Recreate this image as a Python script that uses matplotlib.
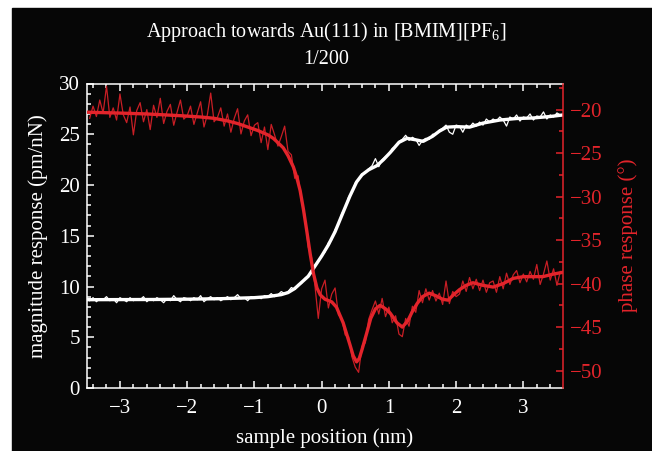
import numpy as np
import matplotlib
matplotlib.use("Agg")
import matplotlib.pyplot as plt
from matplotlib.patches import Rectangle
from matplotlib.ticker import MultipleLocator

plt.rcParams['font.family'] = ['Liberation Serif', 'DejaVu Serif']
plt.rcParams['mathtext.fontset'] = 'custom'
plt.rcParams['mathtext.rm'] = 'Liberation Serif'
plt.rcParams['mathtext.it'] = 'Liberation Serif:italic'

# ---------------- data ----------------
# raw samples, evenly spaced from -3.45 nm to 3.55 nm (step 0.05 nm)
pos_raw = np.linspace(-3.45, 3.55, 141)

mag_raw = [
    8.6, 8.9, 8.5, 8.8, 8.7, 9.0, 8.6, 8.8, 8.4, 8.9,
    8.7, 8.5, 8.9, 8.6, 8.8, 8.7, 9.0, 8.5, 8.8, 8.6,
    8.9, 8.7, 8.4, 8.8, 8.6, 9.1, 8.7, 8.5, 8.9, 8.8,
    8.6, 8.9, 8.7, 9.1, 8.5, 8.8, 9.0, 8.7, 8.9, 8.6,
    8.8, 9.0, 8.7, 8.9, 9.2, 8.8, 8.9, 8.6, 9.0, 8.9,
    9.0, 8.8, 9.1, 9.0, 9.3, 9.0, 9.2, 9.5, 9.3, 9.5,
    9.9, 9.7, 10.2, 10.3, 10.8, 11.1, 11.4, 12.1, 12.4, 13.1,
    13.4, 14.3, 14.6, 15.6, 16.1, 17.2, 17.7, 18.8, 19.3, 20.2,
    20.5, 21.1, 21.2, 21.6, 21.9, 22.6, 21.8, 22.5, 22.8, 23.0,
    23.6, 23.8, 24.3, 24.5, 24.9, 24.4, 24.7, 24.5, 23.9, 24.4,
    24.6, 24.5, 25.0, 25.0, 25.4, 25.6, 25.9, 25.2, 25.0, 25.9,
    25.8, 25.2, 25.9, 25.7, 26.1, 25.8, 26.2, 25.9, 26.5, 26.2,
    26.5, 26.3, 26.7, 26.4, 25.8, 26.7, 26.5, 26.9, 26.3, 26.7,
    26.6, 27.0, 26.4, 26.8, 26.7, 27.2, 26.5, 26.9, 26.7, 27.1, 26.9,
]

phase_raw = [
    -21.0, -19.6, -20.8, -18.9, -20.4, -17.3, -20.9, -19.8, -21.2, -18.2,
    -20.6, -21.5, -19.7, -22.9, -20.1, -19.2, -21.4, -20.0, -22.3, -19.5,
    -20.9, -18.7, -21.6, -20.2, -19.4, -21.8, -20.3, -18.9, -21.1, -20.7,
    -19.6, -21.7, -20.4, -19.1, -22.0, -20.6, -18.1, -21.4, -20.9, -19.8,
    -21.9, -20.5, -22.6, -21.0, -19.9, -22.8, -21.3, -20.6, -23.0, -21.8,
    -21.5, -23.8, -22.0, -24.6, -21.7, -22.9, -24.2, -23.1, -21.9, -24.8,
    -25.2, -27.9, -27.6, -30.6, -32.1, -35.8, -37.0, -40.2, -44.0, -40.6,
    -39.6, -42.8, -41.2, -40.5, -43.6, -44.0, -45.9, -46.1, -48.4, -49.6,
    -50.2, -47.2, -46.8, -44.1, -43.0, -42.0, -43.5, -41.7, -43.8, -42.7,
    -44.5, -43.7, -45.8, -46.1, -44.0, -44.9, -42.6, -43.3, -40.8, -42.2,
    -40.6, -41.9, -40.8, -42.0, -41.1, -42.4, -39.7, -42.3, -40.9, -41.5,
    -41.2, -39.7, -40.9, -39.3, -40.6, -39.5, -40.8, -39.6, -41.0, -39.9,
    -39.7, -41.0, -39.2, -40.6, -38.8, -40.1, -39.0, -38.5, -39.9, -38.9,
    -39.8, -38.6, -39.5, -37.8, -40.1, -38.9, -37.4, -39.6, -38.3, -40.2, -38.6,
]

# smoothed curves
mag_pos = [-3.49, -2.5, -2.0, -1.5, -1.0, -0.8, -0.6, -0.5, -0.4, -0.3,
           -0.2, -0.1, 0.0, 0.1, 0.2, 0.3, 0.42, 0.52, 0.6, 0.7,
           0.82, 0.92, 1.02, 1.15, 1.27, 1.4, 1.51, 1.65, 1.75, 1.86,
           2.0, 2.2, 2.4, 2.65, 2.9, 3.14, 3.4, 3.59]
mag_smooth = [8.7, 8.72, 8.75, 8.8, 8.9, 9.0, 9.2, 9.4, 9.8, 10.4,
              11.0, 12.0, 13.0, 14.1, 15.4, 17.0, 18.9, 20.3, 21.0, 21.5,
              21.9, 22.5, 23.2, 24.2, 24.6, 24.45, 24.3, 24.8, 25.3, 25.7,
              25.75, 25.7, 26.1, 26.4, 26.55, 26.6, 26.75, 26.9]

phase_pos = [-3.49, -3.0, -2.6, -2.1, -1.8, -1.6, -1.4, -1.25, -1.1, -0.95,
             -0.8, -0.72, -0.65, -0.57, -0.5, -0.42, -0.37, -0.32, -0.27, -0.22,
             -0.17, -0.12, -0.07, -0.02, 0.05, 0.15, 0.22, 0.32, 0.42, 0.47,
             0.52, 0.56, 0.6, 0.67, 0.73, 0.8, 0.87, 0.95, 1.02, 1.12,
             1.2, 1.28, 1.35, 1.42, 1.5, 1.6, 1.7, 1.8, 1.88, 1.96,
             2.05, 2.15, 2.25, 2.4, 2.55, 2.7, 2.85, 3.0, 3.29, 3.45, 3.59]
phase_smooth = [-20.3, -20.4, -20.5, -20.7, -20.85, -21.0, -21.3, -21.6, -22.0, -22.4,
                -22.9, -23.3, -23.8, -24.4, -25.3, -26.6, -27.8, -29.3, -31.5, -34.0,
                -36.6, -38.9, -40.5, -41.3, -41.8, -42.1, -42.7, -44.5, -47.0, -48.3,
                -49.0, -48.6, -47.6, -45.7, -44.0, -42.9, -42.5, -42.9, -43.4, -44.5,
                -45.0, -44.3, -43.2, -42.3, -41.5, -41.1, -41.4, -41.8, -41.9, -41.3,
                -40.7, -40.2, -39.9, -40.2, -40.4, -40.0, -39.4, -39.2, -39.2, -38.9, -38.7]

RED = '#e3242b'
RED_RAW = '#c81e25'
BG = '#060606'
FS = 15

fig = plt.figure(figsize=(6.52, 4.51), dpi=100, facecolor='white')
fig.patches.append(Rectangle((12 / 652, 0), 1, (451 - 8) / 451,
                             transform=fig.transFigure, color=BG, zorder=-10))

ax = fig.add_axes([87 / 652, 63 / 451, (563 - 87) / 652, (388 - 83.5) / 451])
ax.set_facecolor(BG)
ax2 = ax.twinx()

ax.plot(pos_raw, mag_raw, color='white', lw=0.9, zorder=2)
ax.plot(mag_pos, mag_smooth, color='white', lw=2.4, zorder=3)
ax2.plot(pos_raw, phase_raw, color=RED_RAW, lw=0.9)
ax2.plot(phase_pos, phase_smooth, color=RED, lw=2.4)

ax.set_xlim(-3.49, 3.59)
ax.set_ylim(0, 30)
ax2.set_ylim(-52, -17)

ax.xaxis.set_major_locator(MultipleLocator(1))
ax.xaxis.set_minor_locator(MultipleLocator(0.2))
ax.yaxis.set_major_locator(MultipleLocator(5))
ax.yaxis.set_minor_locator(MultipleLocator(1))
ax2.yaxis.set_major_locator(MultipleLocator(5))
ax2.yaxis.set_minor_locator(MultipleLocator(2.5))

ax.tick_params(which='both', direction='in', top=True, right=False,
               color='white', labelcolor='white', labelsize=FS, width=1.1)
ax.tick_params(which='major', length=5)
ax.tick_params(which='minor', length=2.6)
ax.tick_params(axis='x', pad=8)
ax.tick_params(axis='y', pad=5)
ax2.tick_params(which='both', direction='in', color=RED, labelcolor=RED,
                labelsize=FS, width=1.1, pad=5)
ax2.tick_params(which='major', length=5)
ax2.tick_params(which='minor', length=2.6)

for s in ['left', 'top', 'bottom']:
    ax.spines[s].set_color('white')
    ax.spines[s].set_linewidth(1.1)
    ax2.spines[s].set_visible(False)
ax.spines['right'].set_visible(False)
ax2.spines['right'].set_color(RED)
ax2.spines['right'].set_linewidth(1.1)

ax.set_xlabel('sample position (nm)', color='white', fontsize=FS, labelpad=7)
ax.set_ylabel('magnitude response (pm/nN)', color='white', fontsize=FS, labelpad=8)
ax2.set_ylabel('phase response (°)', color=RED, fontsize=FS, labelpad=11)

fig.text(0.5, 1 - 32 / 451, r'Approach towards Au(111) in [BMIM][PF$_{6}$]',
         color='white', fontsize=14.5, ha='center', va='center')
fig.text(0.5, 1 - 60 / 451, '1/200', color='white', fontsize=14.5,
         ha='center', va='center')

fig.savefig('out.png', dpi=100, facecolor=fig.get_facecolor())
